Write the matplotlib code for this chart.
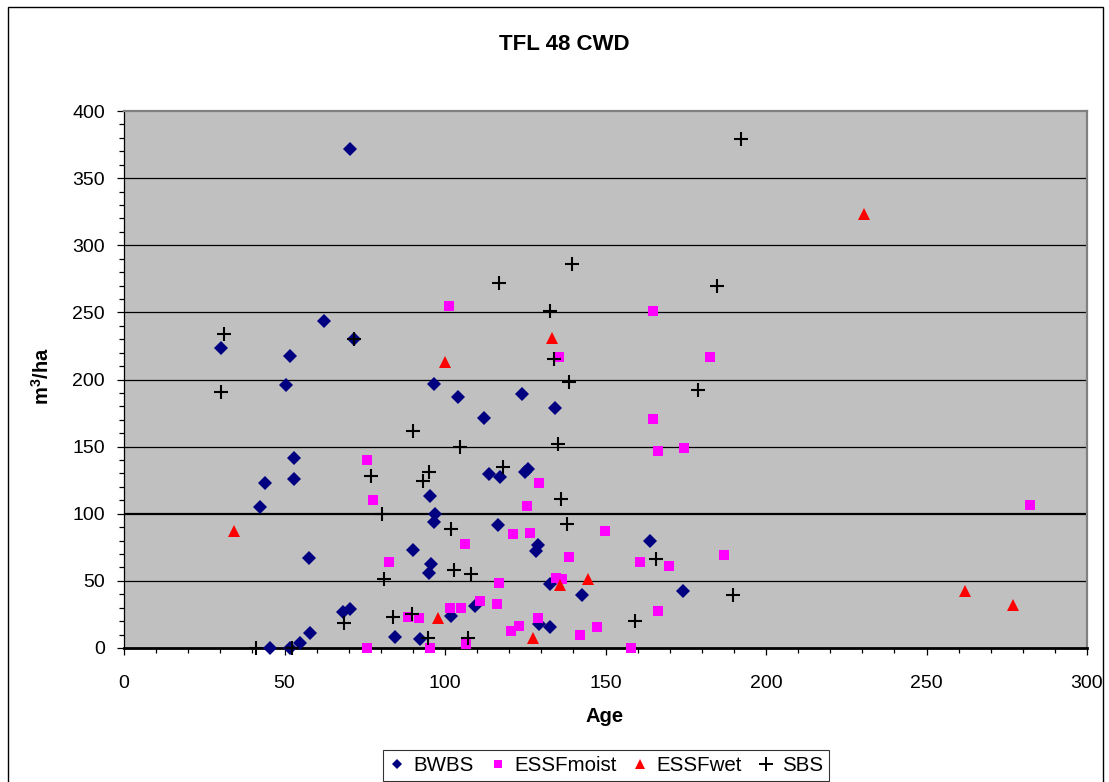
import matplotlib
matplotlib.use("Agg")
import matplotlib.pyplot as plt
from matplotlib.lines import Line2D
from matplotlib.patches import Rectangle
from matplotlib.ticker import MultipleLocator

plt.rcParams["font.family"] = ["Liberation Sans", "DejaVu Sans"]
plt.rcParams["mathtext.fontset"] = "custom"
plt.rcParams["mathtext.rm"] = "Liberation Sans:bold"
plt.rcParams["mathtext.bf"] = "Liberation Sans:bold"

# Stand age (years) and coarse woody debris volume (m3/ha) by BEC zone
bwbs_age = [30.2, 70.3, 62.3, 51.7, 50.5, 96.5, 104.2, 124.0, 134.2, 112.2,
            53.0, 43.9, 53.1, 113.8, 117.1, 124.9, 125.9, 95.3, 42.5, 96.9,
            96.5, 116.4, 128.9, 128.5, 163.9, 57.7, 90.0, 95.7, 95.1, 132.7,
            142.6, 174.2, 109.5, 101.9, 68.2, 70.5, 58.0, 54.7, 45.5, 51.8,
            84.3, 92.3, 129.3, 132.8, 71.8]
bwbs_cwd = [223.5, 371.5, 243.3, 217.5, 195.7, 196.6, 187.2, 189.2, 178.5, 171.6,
            141.3, 123.1, 125.9, 129.4, 127.4, 131.1, 133.3, 113.0, 105.3, 100.0,
            93.9, 91.6, 76.7, 72.3, 79.9, 66.8, 73.0, 62.8, 55.9, 47.9,
            39.3, 42.2, 31.5, 23.6, 26.6, 29.0, 11.4, 4.0, 0.0, 0.0,
            8.4, 6.5, 17.6, 15.4, 230.0]

essf_moist_age = [101.2, 164.9, 135.4, 182.7, 164.9, 166.4, 174.4, 75.8, 129.4, 77.6,
                  125.7, 282.2, 121.1, 126.5, 149.9, 106.2, 82.5, 138.7, 160.7, 169.8,
                  187.0, 116.8, 134.5, 136.6, 110.8, 101.6, 105.1, 116.1, 166.4, 129.0,
                  88.4, 91.8, 123.0, 120.7, 147.5, 142.2, 106.6, 75.8, 95.2, 157.8]
essf_moist_cwd = [255.0, 251.0, 217.0, 217.0, 170.3, 147.0, 149.0, 140.3, 122.9, 110.2,
                  105.8, 106.5, 85.2, 85.7, 86.9, 77.8, 63.8, 67.5, 64.1, 60.8,
                  69.3, 48.6, 51.9, 51.6, 34.8, 29.8, 29.8, 33.0, 27.8, 22.6,
                  22.8, 22.1, 16.4, 12.4, 15.9, 9.4, 3.0, 0.0, 0.0, 0.0]

essf_wet_age = [34.4, 99.9, 133.2, 230.4, 135.9, 144.6, 97.7, 127.4, 262.0, 276.8]
essf_wet_cwd = [87.4, 213.0, 231.0, 323.2, 46.9, 51.2, 22.1, 7.2, 42.7, 32.0]

sbs_age = [31.0, 30.2, 71.8, 192.2, 139.7, 116.7, 184.6, 132.6, 133.9, 138.5,
           178.8, 90.0, 104.8, 135.3, 118.0, 77.0, 94.9, 93.3, 136.0, 137.9,
           80.5, 102.0, 165.7, 80.9, 102.9, 108.1, 189.6, 83.8, 89.7, 68.4,
           159.1, 94.8, 107.1, 41.2, 52.3]
sbs_cwd = [233.7, 190.7, 230.2, 379.4, 286.0, 272.1, 269.4, 251.0, 215.0, 197.9,
           192.4, 161.6, 149.7, 152.0, 134.6, 128.1, 131.3, 124.4, 111.0, 92.6,
           100.0, 88.6, 66.3, 51.6, 57.9, 55.3, 39.3, 23.3, 25.1, 18.4,
           20.3, 7.2, 7.2, 0.0, 0.0]

x_ticks = [0, 50, 100, 150, 200, 250, 300]
y_ticks = [0, 50, 100, 150, 200, 250, 300, 350, 400]

W, H = 1109, 782
fig = plt.figure(figsize=(W / 100, H / 100), dpi=100)
fig.patch.set_facecolor("white")

# chart-area border
fig.patches.append(Rectangle((8 / W, -0.02), (1103 - 8) / W, 1.02 - 7 / H,
                             transform=fig.transFigure, fill=False,
                             edgecolor="black", linewidth=1.0))

left, right, top, bottom = 124, 1087, 111, 648
ax = fig.add_axes([left / W, 1 - bottom / H, (right - left) / W, (bottom - top) / H])
ax.set_facecolor("#C0C0C0")
ax.set_xlim(0, 300)
ax.set_ylim(0, 400)

# horizontal gridlines
for yv in y_ticks[1:-1]:
    ax.axhline(yv, color="black", linewidth=1.6 if yv == 100 else 0.9, zorder=1)

ax.spines["top"].set_color("#808080")
ax.spines["right"].set_color("#808080")
ax.spines["top"].set_linewidth(1.6)
ax.spines["right"].set_linewidth(1.6)
ax.spines["left"].set_color("black")
ax.spines["left"].set_linewidth(0.9)
ax.spines["bottom"].set_color("black")
ax.spines["bottom"].set_linewidth(2.0)
ax.spines["bottom"].set_zorder(2.5)

ax.set_xticks(x_ticks)
ax.set_yticks(y_ticks)
ax.xaxis.set_minor_locator(MultipleLocator(10))
ax.yaxis.set_minor_locator(MultipleLocator(10))
ax.tick_params(axis="both", which="major", direction="out", length=4.8, width=0.9,
               color="black", labelsize=14)
ax.tick_params(axis="both", which="minor", direction="out", length=3.6, width=0.9,
               color="black")
ax.tick_params(axis="x", which="major", pad=15)
ax.tick_params(axis="y", which="major", pad=9)

ax.plot(bwbs_age, bwbs_cwd, linestyle="none", marker="D", markersize=7.0,
        color="#000080", markeredgewidth=0, clip_on=False, zorder=3, label="BWBS")
ax.plot(essf_moist_age, essf_moist_cwd, linestyle="none", marker="s", markersize=7.0,
        color="#FF00FF", markeredgewidth=0, clip_on=False, zorder=3, label="ESSFmoist")
ax.plot(essf_wet_age, essf_wet_cwd, linestyle="none", marker="^", markersize=8.0,
        color="#FF0000", markeredgewidth=0, clip_on=False, zorder=3, label="ESSFwet")
ax.plot(sbs_age, sbs_cwd, linestyle="none", marker="+", markersize=9.8,
        color="black", markeredgewidth=1.5, clip_on=False, zorder=3, label="SBS")

fig.text(564 / W, 1 - 45 / H, "TFL 48 CWD", ha="center", va="center",
         fontsize=16, fontweight="bold")
fig.text(605 / W, 1 - 717 / H, "Age", ha="center", va="center",
         fontsize=14.5, fontweight="bold")
fig.text(42 / W, 1 - 376 / H, r"m$^{3}$/ha", ha="center", va="center",
         rotation=90, fontsize=14.5, fontweight="bold")

handles = [
    Line2D([], [], linestyle="none", marker="D", markersize=5.2, color="#000080",
           markeredgewidth=0),
    Line2D([], [], linestyle="none", marker="s", markersize=5.8, color="#FF00FF",
           markeredgewidth=0),
    Line2D([], [], linestyle="none", marker="^", markersize=6.8, color="#FF0000",
           markeredgewidth=0),
    Line2D([], [], linestyle="none", marker="+", markersize=9.5, color="black",
           markeredgewidth=1.4),
]
leg = fig.legend(handles, ["BWBS", "ESSFmoist", "ESSFwet", "SBS"],
                 loc="upper center", bbox_to_anchor=(606 / W, 1 - 750 / H),
                 ncol=4, frameon=True, fancybox=False, fontsize=14.8,
                 handlelength=0.8, handletextpad=0.4, columnspacing=0.75,
                 borderpad=0.3, borderaxespad=0)
leg.get_frame().set_edgecolor("black")
leg.get_frame().set_linewidth(0.8)

fig.savefig("out.png", dpi=100, facecolor="white")
